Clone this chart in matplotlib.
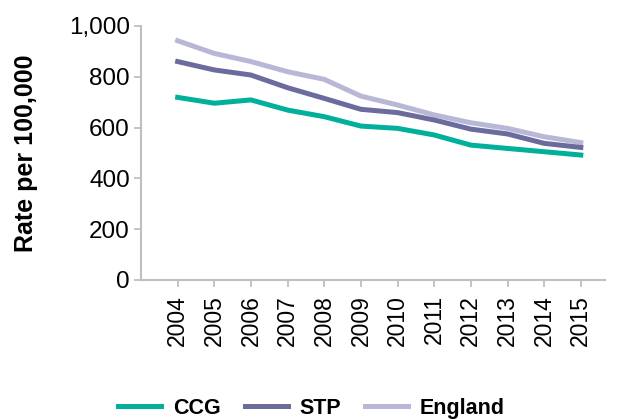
import matplotlib
matplotlib.use("Agg")
import matplotlib.pyplot as plt

plt.rcParams['font.family'] = ['Liberation Sans', 'DejaVu Sans']

# data
years = ['2004', '2005', '2006', '2007', '2008', '2009',
         '2010', '2011', '2012', '2013', '2014', '2015']
ccg = [719, 696, 709, 669, 643, 606, 597, 571, 531, 518, 505, 492]
stp = [860, 827, 807, 757, 715, 672, 659, 630, 594, 575, 538, 522]
england = [942, 892, 860, 820, 790, 724, 689, 650, 619, 597, 564, 541]

grey = '#BFBFBF'

fig = plt.figure(figsize=(6.17, 4.19), dpi=100)
ax = fig.add_axes([141/617, 1 - 280/419, (605 - 141)/617, (280 - 26)/419])

x = range(len(years))
ax.plot(x, england, color='#B8B8D6', lw=3.6, label='England', zorder=2)
ax.plot(x, stp, color='#6B6B9E', lw=3.6, label='STP', zorder=3)
ax.plot(x, ccg, color='#00B09B', lw=3.6, label='CCG', zorder=4)

ax.set_xlim(-1, 11.66)
ax.set_ylim(0, 1000)
ax.set_xticks(list(x))
ax.set_xticklabels(years, rotation=90)
ax.set_yticks([0, 200, 400, 600, 800, 1000])
ax.set_yticklabels(['0', '200', '400', '600', '800', '1,000'])
ax.tick_params(axis='both', labelsize=16.5, color=grey, width=1.3, length=5)
ax.tick_params(axis='y', labelsize=17.5, pad=3)
ax.tick_params(axis='x', pad=6)

for s in ['top', 'right']:
    ax.spines[s].set_visible(False)
for s in ['left', 'bottom']:
    ax.spines[s].set_color(grey)
    ax.spines[s].set_linewidth(1.5)

ax.set_ylabel('Rate per 100,000', fontsize=18, fontweight='bold', labelpad=22)

handles, labels = ax.get_legend_handles_labels()
order = [2, 1, 0]
fig.legend([handles[i] for i in order], [labels[i] for i in order],
           loc='center', bbox_to_anchor=(0.505, 0.026), ncol=3, frameon=False,
           prop={'size': 15.5, 'weight': 'bold'}, handlelength=2.0,
           columnspacing=1.1, handletextpad=0.55)

fig.savefig('out.png', dpi=100)
